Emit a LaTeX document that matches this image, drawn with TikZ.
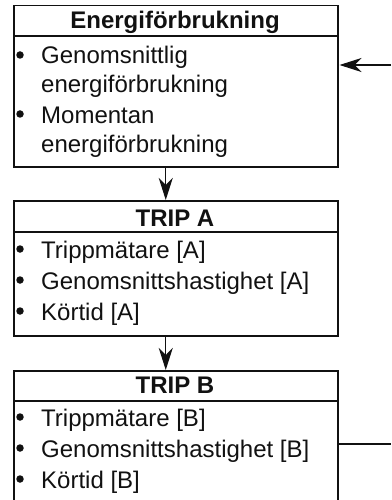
\documentclass[tikz,border=0pt]{standalone}
\usepackage{fontspec}
\setmainfont{Liberation Sans}
\usetikzlibrary{arrows.meta}
\definecolor{ink}{HTML}{111111}
\tikzset{
  box/.style={draw=ink, line width=1.5pt, minimum width=324pt, inner sep=0pt, anchor=north west},
  txt/.style={inner sep=0pt, anchor=base west, text=ink, font=\fontsize{24}{28}\selectfont},
  head/.style={inner sep=0pt, anchor=base, text=ink, font=\fontsize{24}{28}\selectfont\bfseries},
  dot/.style={circle, fill=ink, inner sep=0pt, minimum size=7.5pt},
  arr/.style={draw=ink, line width=1.2pt, -{Stealth[length=22pt,width=14pt,inset=7pt]}},
  ln/.style={draw=ink, line width=1.3pt}
}
\begin{document}
\begin{tikzpicture}[x=1pt,y=-1pt]
\clip (0,0) rectangle (391,500);
\useasboundingbox (0,0) rectangle (391,500);
% boxes
\node[box, minimum height=161pt] (b1) at (13,5) {};
\node[box, minimum height=135pt] (b2) at (13,200) {};
\node[box, minimum height=140pt] (b3) at (13,370) {};
\draw[ln, line width=1.5pt] (13,36) -- (337,36);
\draw[ln, line width=1.5pt] (13,232) -- (337,232);
\draw[ln, line width=1.5pt] (13,401) -- (337,401);
% headers
\node[head] (h1) at (175,29) {Energiförbrukning};
\node[head] (h2) at (175,226) {TRIP A};
\node[head] (h3) at (175,393) {TRIP B};
% box 1 items
\node[dot] (p11) at (20,55) {};
\node[txt] (t11) at (41,64) {Genomsnittlig};
\node[txt] (t12) at (41,93) {energiförbrukning};
\node[dot] (p12) at (20,114) {};
\node[txt] (t13) at (41,123) {Momentan};
\node[txt] (t14) at (41,152) {energiförbrukning};
% box 2 items
\node[dot] (p21) at (20,249) {};
\node[txt] (t21) at (41,258) {Trippmätare [A]};
\node[dot] (p22) at (20,280) {};
\node[txt] (t22) at (41,289) {Genomsnittshastighet [A]};
\node[dot] (p23) at (20,311) {};
\node[txt] (t23) at (41,320) {Körtid [A]};
% box 3 items
\node[dot] (p31) at (20,417) {};
\node[txt] (t31) at (41,426) {Trippmätare [B]};
\node[dot] (p32) at (20,448) {};
\node[txt] (t32) at (41,457) {Genomsnittshastighet [B]};
\node[dot] (p33) at (20,479) {};
\node[txt] (t33) at (41,488) {Körtid [B]};
% connectors
\coordinate (in) at (391,65);
\coordinate (out) at (391,444);
\draw[arr] (in) -- ([xshift=1pt]b1.east |- in);
\draw[arr] ([xshift=-10pt]b1.south) -- ([xshift=-10pt]b2.north);
\draw[arr] ([xshift=-10pt]b2.south) -- ([xshift=-10pt]b3.north);
\draw[ln] (b3.east |- out) -- (out);
\end{tikzpicture}
\end{document}
